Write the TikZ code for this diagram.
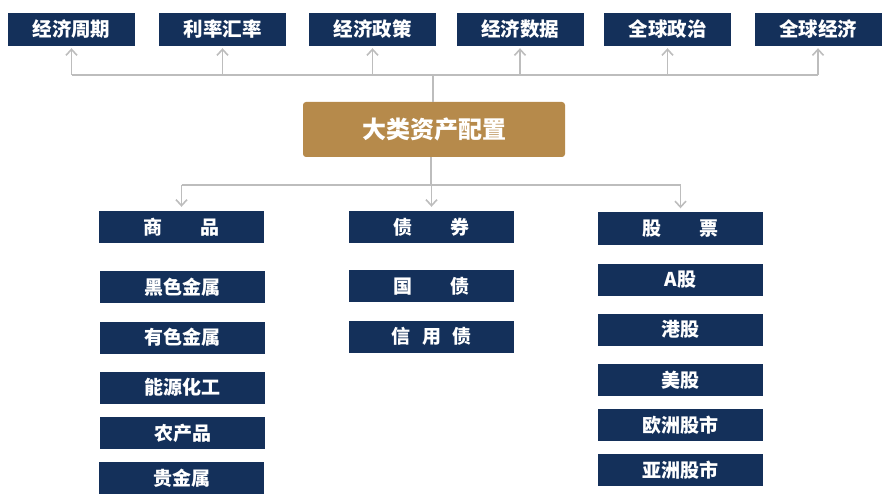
\documentclass[tikz,border=0pt]{standalone}
\usepackage{fontspec}
\setmainfont{Noto Sans CJK SC}
\usetikzlibrary{arrows.meta}
\definecolor{navy}{HTML}{14305A}
\definecolor{gold}{HTML}{B68A4B}
\definecolor{conn}{HTML}{BDBDBD}
\tikzset{
  topbox/.style={fill=navy,text=white,font=\bfseries\fontsize{19.5}{21}\selectfont,minimum width=127pt,minimum height=33pt,inner sep=0pt},
  catbox/.style={fill=navy,text=white,font=\bfseries\fontsize{19}{21}\selectfont,minimum width=165pt,minimum height=32pt,inner sep=0pt},
  mainbox/.style={fill=gold,text=white,rounded corners=3pt,font=\bfseries\fontsize{24}{26}\selectfont,minimum width=262pt,minimum height=55pt,inner sep=0pt},
  link/.style={draw=conn,line width=1.8pt},
  arr/.style={link,-{Straight Barb[length=6pt,width=11pt,line width=1.6pt]}}
}
\begin{document}
\begin{tikzpicture}[x=1pt,y=-1pt]
\useasboundingbox (0,0) rectangle (887,500);
% top row
\node[topbox] (t1) at (71.5,29.5) {经济周期};
\node[topbox] (t2) at (222.5,29.5) {利率汇率};
\node[topbox] (t3) at (372.5,29.5) {经济政策};
\node[topbox] (t4) at (520,29.5) {经济数据};
\node[topbox] (t5) at (667.5,29.5) {全球政治};
\node[topbox] (t6) at (818,29.5) {全球经济};
% main
\node[mainbox] (m) at (434,129.5) {大类资产配置};
% categories
\node[catbox] (c1) at (181.5,227) {商　　品};
\node[catbox] (c2) at (431.5,227) {债　　券};
\node[catbox] (c3) at (680.5,228.5) {股　　票};
% commodity
\node[catbox] (s11) at (182.5,287) {黑色金属};
\node[catbox] (s12) at (182.5,337.5) {有色金属};
\node[catbox] (s13) at (182.5,387.5) {能源化工};
\node[catbox] (s14) at (182.5,433) {农产品};
\node[catbox] (s15) at (181.5,478) {贵金属};
% bonds
\node[catbox] (s21) at (431.5,286) {国　　债};
\node[catbox] (s22) at (431.5,336.5) {信\hspace{0.63em}用\hspace{0.63em}债};
% stocks
\node[catbox] (s31) at (680.5,279.5) {A股};
\node[catbox] (s32) at (680.5,329.5) {港股};
\node[catbox] (s33) at (680.5,380) {美股};
\node[catbox] (s34) at (680.5,425) {欧洲股市};
\node[catbox] (s35) at (680.5,470) {亚洲股市};
% upper connectors
\coordinate (hu) at (433,75);
\draw[link] (m.north -| hu) -- (hu);
\draw[link] (t1.south |- hu) -- (t6.south |- hu);
\foreach \t in {t1,t2,t3,t4,t5,t6}
  \draw[arr] (\t.south |- hu) -- ([yshift=-2pt]\t.south);
% lower connectors
\coordinate (hd) at (431,185);
\draw[link] (m.south -| hd) -- (hd);
\draw[link] (c1.north |- hd) -- (c3.north |- hd);
\foreach \c in {c1,c2,c3}
  \draw[arr] (\c.north |- hd) -- ([yshift=4pt]\c.north);
\end{tikzpicture}
\end{document}
